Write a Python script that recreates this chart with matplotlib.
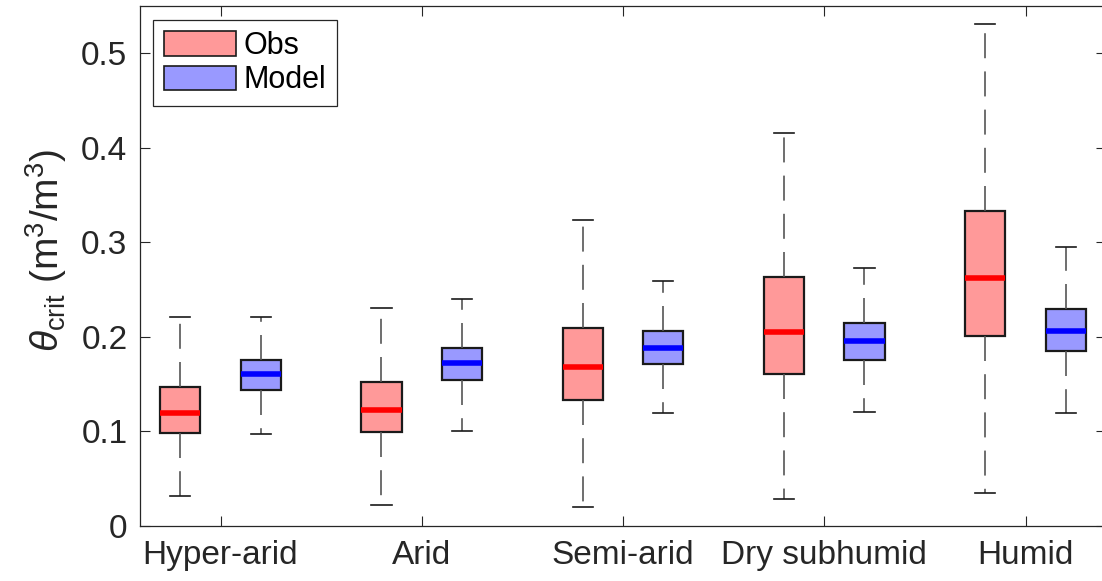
import matplotlib
matplotlib.use("Agg")
import matplotlib.pyplot as plt
from matplotlib.patches import Patch

plt.rcParams['font.family'] = ['Liberation Sans', 'DejaVu Sans']
plt.rcParams['mathtext.fontset'] = 'custom'
plt.rcParams['mathtext.rm'] = 'Liberation Sans'
plt.rcParams['mathtext.it'] = 'Liberation Sans:italic'
plt.rcParams['lines.scale_dashes'] = False

categories = ['Hyper-arid', 'Arid', 'Semi-arid', 'Dry subhumid', 'Humid']

# Obs box statistics: lower whisker, q1, median, q3, upper whisker
obs_low = [0.032, 0.022, 0.020, 0.029, 0.035]
obs_q1 = [0.098, 0.099, 0.133, 0.161, 0.201]
obs_med = [0.119, 0.123, 0.168, 0.205, 0.262]
obs_q3 = [0.147, 0.152, 0.209, 0.263, 0.333]
obs_high = [0.221, 0.231, 0.324, 0.416, 0.531]

# Model box statistics
mod_low = [0.097, 0.101, 0.119, 0.121, 0.119]
mod_q1 = [0.144, 0.154, 0.171, 0.176, 0.185]
mod_med = [0.161, 0.172, 0.188, 0.196, 0.206]
mod_q3 = [0.176, 0.188, 0.206, 0.215, 0.229]
mod_high = [0.221, 0.240, 0.259, 0.273, 0.295]

yticks = [0, 0.1, 0.2, 0.3, 0.4, 0.5]

W, H = 1102, 581
fig = plt.figure(figsize=(W / 100, H / 100), dpi=100)
ax = fig.add_axes([140 / W, (H - 526) / H, (1106 - 140) / W, (526 - 6) / H])

def stats(low, q1, med, q3, high, labels):
    return [dict(whislo=a, q1=b, med=c, q3=d, whishi=e, fliers=[], label=l)
            for a, b, c, d, e, l in zip(low, q1, med, q3, high, labels)]

centers = list(range(1, len(categories) + 1))
obs_color = '#FF9999'
mod_color = '#9999FF'

def draw(st, pos, fill, medc):
    ax.bxp(st, positions=pos, widths=0.2, patch_artist=True, showfliers=False,
           boxprops=dict(facecolor=fill, edgecolor='#1a1a1a', linewidth=1.6),
           medianprops=dict(color=medc, linewidth=4.0),
           whiskerprops=dict(color='#555555', linewidth=1.2, linestyle=(0, (18, 9.5))),
           capprops=dict(color='#1a1a1a', linewidth=1.2),
           capwidths=0.1, manage_ticks=False)

draw(stats(obs_low, obs_q1, obs_med, obs_q3, obs_high, categories),
     [c - 0.2 for c in centers], obs_color, '#FF0000')
draw(stats(mod_low, mod_q1, mod_med, mod_q3, mod_high, categories),
     [c + 0.2 for c in centers], mod_color, '#0000FF')

ax.set_xlim(0.6, 5.4)
ax.set_ylim(0, 0.55)
ax.set_xticks(centers)
ax.set_xticklabels(categories)
ax.set_yticks(yticks)
ax.set_yticklabels(['0', '0.1', '0.2', '0.3', '0.4', '0.5'])

for s in ax.spines.values():
    s.set_color('#262626')
    s.set_linewidth(0.9)
ax.tick_params(direction='in', length=7, width=0.8, colors='#262626',
               labelsize=24, top=True, right=True)
ax.tick_params(axis='x', pad=10)
ax.tick_params(axis='y', pad=9)

ax.set_ylabel(r'$\theta_{\rm crit}$ (m$^3$/m$^3$)', fontsize=28, color='#262626')
ax.yaxis.set_label_coords(-0.073, 0.53)

handles = [Patch(facecolor=obs_color, edgecolor='#1a1a1a', linewidth=1.2, label='Obs'),
           Patch(facecolor=mod_color, edgecolor='#1a1a1a', linewidth=1.2, label='Model')]
leg = ax.legend(handles=handles, loc='upper left', bbox_to_anchor=(153 / W, 1 - 20 / H),
                bbox_transform=fig.transFigure, borderaxespad=0, fontsize=22,
                fancybox=False, framealpha=1, edgecolor='#262626',
                handlelength=2.35, handleheight=0.85, handletextpad=0.25,
                borderpad=0.36, labelspacing=0.14)
leg.get_frame().set_linewidth(0.9)

fig.savefig('out.png', dpi=100)
